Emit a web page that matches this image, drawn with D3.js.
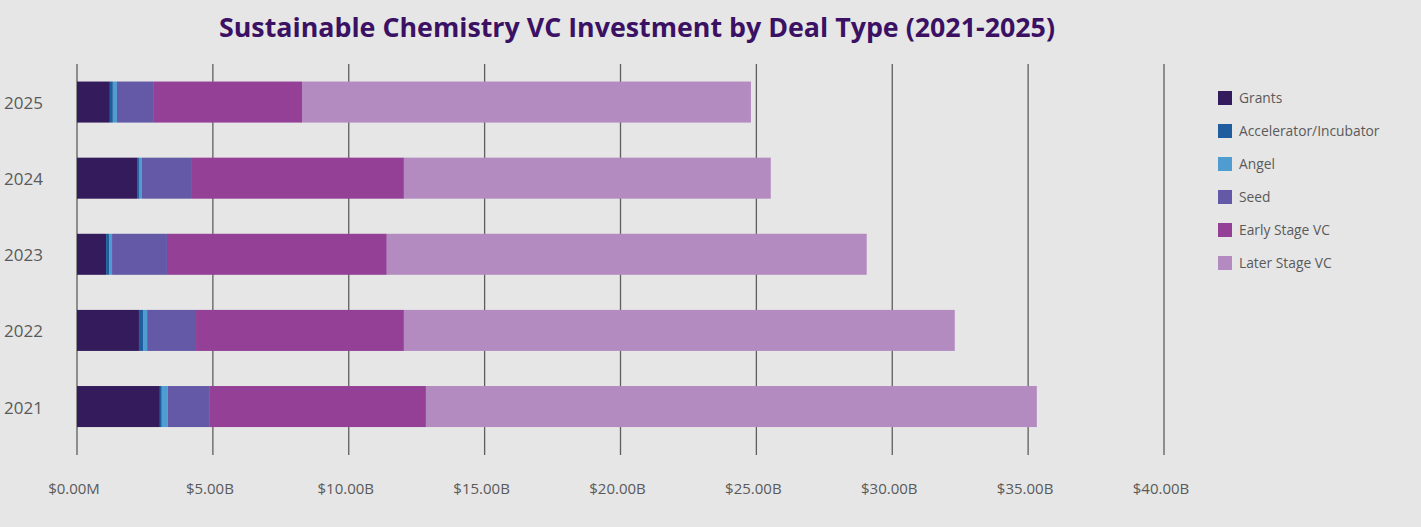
<!DOCTYPE html>
<html>
<head>
<meta charset="utf-8">
<script src="https://cdn.jsdelivr.net/npm/d3@7"></script>
<style>
  html, body { margin: 0; padding: 0; background: #e6e6e6; }
  svg { display: block; font-family: "Open Sans", sans-serif; }
</style>
</head>
<body>
<svg id="chart" width="1421" height="527"></svg>
<script>
// ---- Data (billions USD) ----
const years = ["2025", "2024", "2023", "2022", "2021"];
const dealTypes = ["Grants", "Accelerator/Incubator", "Angel", "Seed", "Early Stage VC", "Later Stage VC"];
const grants      = [1.21, 2.21, 1.07, 2.28, 3.05];
const accelerator = [0.11, 0.07, 0.11, 0.15, 0.07];
const angel       = [0.15, 0.11, 0.11, 0.15, 0.22];
const seed        = [1.36, 1.84, 2.02, 1.80, 1.55];
const earlyVC     = [5.45, 7.80, 8.09, 7.65, 7.95];
const laterVC     = [16.52, 13.50, 17.66, 20.27, 22.48];
const tickValues  = [0, 5, 10, 15, 20, 25, 30, 35, 40];
const tickLabels  = ["$0.00M", "$5.00B", "$10.00B", "$15.00B", "$20.00B", "$25.00B", "$30.00B", "$35.00B", "$40.00B"];
const colors      = ["#341c5c", "#1f5d9e", "#4f9cd0", "#6459a6", "#934096", "#b38bc0"];

const seriesValues = [grants, accelerator, angel, seed, earlyVC, laterVC];
const table = years.map((y, i) => {
  const row = { year: y };
  dealTypes.forEach((d, j) => row[d] = seriesValues[j][i]);
  return row;
});

const svg = d3.select("#chart");

const x = d3.scaleLinear().domain([0, 40]).range([77, 1164]);
const y = d3.scaleBand().domain(years).range([64, 444.6]).paddingInner(0.461).paddingOuter(0.2305);
const color = d3.scaleOrdinal().domain(dealTypes).range(colors);

// Title
svg.append("text")
  .attr("x", 637).attr("y", 37)
  .attr("text-anchor", "middle")
  .attr("font-size", 27).attr("font-weight", 700)
  .attr("fill", "#3b1163")
  .attr("textLength", 836).attr("lengthAdjust", "spacingAndGlyphs")
  .text("Sustainable Chemistry VC Investment by Deal Type (2021-2025)");

// Gridlines
svg.append("g").selectAll("line").data(tickValues).join("line")
  .attr("x1", d => x(d)).attr("x2", d => x(d))
  .attr("y1", 64).attr("y2", 455)
  .attr("stroke", "#5e5e5e").attr("stroke-width", 1.3);

// Tick labels
svg.append("g").selectAll("text").data(tickValues).join("text")
  .attr("x", d => x(d) - 3).attr("y", 494)
  .attr("text-anchor", "middle")
  .attr("font-size", 15).attr("fill", "#5a5a5a")
  .text((d, i) => tickLabels[i]);

// Bars
const stacked = d3.stack().keys(dealTypes)(table);
svg.append("g").selectAll("g").data(stacked).join("g")
  .attr("fill", d => color(d.key))
  .selectAll("rect").data(d => d).join("rect")
  .attr("x", d => x(d[0]))
  .attr("width", d => x(d[1]) - x(d[0]))
  .attr("y", d => y(d.data.year))
  .attr("height", y.bandwidth());

// Year labels
svg.append("g").selectAll("text").data(years).join("text")
  .attr("x", 43).attr("y", d => y(d) + y.bandwidth() / 2 + 7)
  .attr("text-anchor", "end")
  .attr("font-size", 17).attr("fill", "#5a5a5a")
  .text(d => d);

// Legend
const legend = svg.append("g").selectAll("g").data(dealTypes).join("g")
  .attr("transform", (d, i) => `translate(1218, ${91 + i * 33})`);
legend.append("rect").attr("width", 14).attr("height", 14).attr("fill", d => color(d));
legend.append("text").attr("x", 21).attr("y", 12)
  .attr("font-size", 13.8).attr("fill", "#5a5a5a")
  .text(d => d);
</script>
</body>
</html>
